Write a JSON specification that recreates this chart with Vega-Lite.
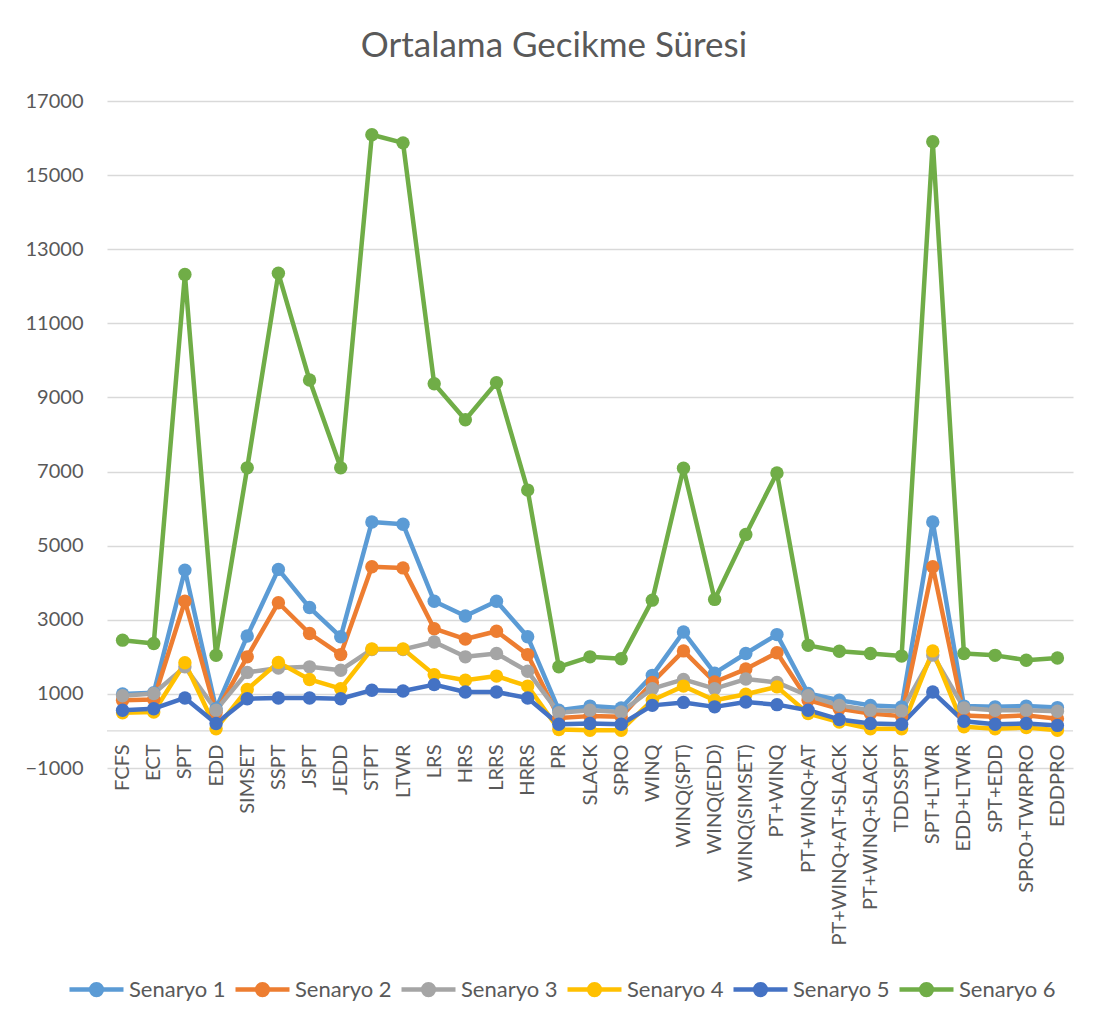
{
 "$schema": "https://vega.github.io/schema/vega-lite/v6.json",
 "width": 966, "height": 667,
 "autosize": {"type": "none"},
 "padding": {"left": 107, "top": 101, "right": 30, "bottom": 261},
 "background": "white",
 "title": {"text": "Ortalama Gecikme Süresi", "fontSize": 35, "font": "Lato", "fontWeight": "normal", "color": "#595959", "anchor": "middle", "dx": -36, "offset": 27},
 "config": {"view": {"stroke": null}, "font": "Lato"},
 "datasets": {
  "d": [
{"k":"FCFS","s":"Senaryo 1","v":1000},{"k":"ECT","s":"Senaryo 1","v":1030},{"k":"SPT","s":"Senaryo 1","v":4340},{"k":"EDD","s":"Senaryo 1","v":600},{"k":"SIMSET","s":"Senaryo 1","v":2560},{"k":"SSPT","s":"Senaryo 1","v":4360},{"k":"JSPT","s":"Senaryo 1","v":3330},{"k":"JEDD","s":"Senaryo 1","v":2540},{"k":"STPT","s":"Senaryo 1","v":5640},{"k":"LTWR","s":"Senaryo 1","v":5580},{"k":"LRS","s":"Senaryo 1","v":3500},{"k":"HRS","s":"Senaryo 1","v":3100},{"k":"LRRS","s":"Senaryo 1","v":3500},{"k":"HRRS","s":"Senaryo 1","v":2540},{"k":"PR","s":"Senaryo 1","v":560},{"k":"SLACK","s":"Senaryo 1","v":670},{"k":"SPRO","s":"Senaryo 1","v":620},{"k":"WINQ","s":"Senaryo 1","v":1500},{"k":"WINQ(SPT)","s":"Senaryo 1","v":2670},{"k":"WINQ(EDD)","s":"Senaryo 1","v":1560},{"k":"WINQ(SIMSET)","s":"Senaryo 1","v":2090},{"k":"PT+WINQ","s":"Senaryo 1","v":2600},{"k":"PT+WINQ+AT","s":"Senaryo 1","v":1010},{"k":"PT+WINQ+AT+SLACK","s":"Senaryo 1","v":830},{"k":"PT+WINQ+SLACK","s":"Senaryo 1","v":690},{"k":"TDDSSPT","s":"Senaryo 1","v":650},{"k":"SPT+LTWR","s":"Senaryo 1","v":5640},{"k":"EDD+LTWR","s":"Senaryo 1","v":670},{"k":"SPT+EDD","s":"Senaryo 1","v":650},{"k":"SPRO+TWRPRO","s":"Senaryo 1","v":670},{"k":"EDDPRO","s":"Senaryo 1","v":630},
{"k":"FCFS","s":"Senaryo 2","v":830},{"k":"ECT","s":"Senaryo 2","v":850},{"k":"SPT","s":"Senaryo 2","v":3500},{"k":"EDD","s":"Senaryo 2","v":500},{"k":"SIMSET","s":"Senaryo 2","v":2000},{"k":"SSPT","s":"Senaryo 2","v":3460},{"k":"JSPT","s":"Senaryo 2","v":2630},{"k":"JEDD","s":"Senaryo 2","v":2060},{"k":"STPT","s":"Senaryo 2","v":4430},{"k":"LTWR","s":"Senaryo 2","v":4400},{"k":"LRS","s":"Senaryo 2","v":2760},{"k":"HRS","s":"Senaryo 2","v":2480},{"k":"LRRS","s":"Senaryo 2","v":2690},{"k":"HRRS","s":"Senaryo 2","v":2060},{"k":"PR","s":"Senaryo 2","v":350},{"k":"SLACK","s":"Senaryo 2","v":400},{"k":"SPRO","s":"Senaryo 2","v":380},{"k":"WINQ","s":"Senaryo 2","v":1310},{"k":"WINQ(SPT)","s":"Senaryo 2","v":2160},{"k":"WINQ(EDD)","s":"Senaryo 2","v":1320},{"k":"WINQ(SIMSET)","s":"Senaryo 2","v":1670},{"k":"PT+WINQ","s":"Senaryo 2","v":2110},{"k":"PT+WINQ+AT","s":"Senaryo 2","v":830},{"k":"PT+WINQ+AT+SLACK","s":"Senaryo 2","v":600},{"k":"PT+WINQ+SLACK","s":"Senaryo 2","v":470},{"k":"TDDSSPT","s":"Senaryo 2","v":400},{"k":"SPT+LTWR","s":"Senaryo 2","v":4430},{"k":"EDD+LTWR","s":"Senaryo 2","v":420},{"k":"SPT+EDD","s":"Senaryo 2","v":380},{"k":"SPRO+TWRPRO","s":"Senaryo 2","v":420},{"k":"EDDPRO","s":"Senaryo 2","v":330},
{"k":"FCFS","s":"Senaryo 3","v":950},{"k":"ECT","s":"Senaryo 3","v":1010},{"k":"SPT","s":"Senaryo 3","v":1730},{"k":"EDD","s":"Senaryo 3","v":560},{"k":"SIMSET","s":"Senaryo 3","v":1580},{"k":"SSPT","s":"Senaryo 3","v":1700},{"k":"JSPT","s":"Senaryo 3","v":1730},{"k":"JEDD","s":"Senaryo 3","v":1640},{"k":"STPT","s":"Senaryo 3","v":2200},{"k":"LTWR","s":"Senaryo 3","v":2200},{"k":"LRS","s":"Senaryo 3","v":2400},{"k":"HRS","s":"Senaryo 3","v":2000},{"k":"LRRS","s":"Senaryo 3","v":2090},{"k":"HRRS","s":"Senaryo 3","v":1610},{"k":"PR","s":"Senaryo 3","v":490},{"k":"SLACK","s":"Senaryo 3","v":560},{"k":"SPRO","s":"Senaryo 3","v":510},{"k":"WINQ","s":"Senaryo 3","v":1140},{"k":"WINQ(SPT)","s":"Senaryo 3","v":1390},{"k":"WINQ(EDD)","s":"Senaryo 3","v":1140},{"k":"WINQ(SIMSET)","s":"Senaryo 3","v":1400},{"k":"PT+WINQ","s":"Senaryo 3","v":1310},{"k":"PT+WINQ+AT","s":"Senaryo 3","v":950},{"k":"PT+WINQ+AT+SLACK","s":"Senaryo 3","v":690},{"k":"PT+WINQ+SLACK","s":"Senaryo 3","v":560},{"k":"TDDSSPT","s":"Senaryo 3","v":540},{"k":"SPT+LTWR","s":"Senaryo 3","v":2050},{"k":"EDD+LTWR","s":"Senaryo 3","v":620},{"k":"SPT+EDD","s":"Senaryo 3","v":560},{"k":"SPRO+TWRPRO","s":"Senaryo 3","v":560},{"k":"EDDPRO","s":"Senaryo 3","v":530},
{"k":"FCFS","s":"Senaryo 4","v":490},{"k":"ECT","s":"Senaryo 4","v":510},{"k":"SPT","s":"Senaryo 4","v":1840},{"k":"EDD","s":"Senaryo 4","v":60},{"k":"SIMSET","s":"Senaryo 4","v":1120},{"k":"SSPT","s":"Senaryo 4","v":1850},{"k":"JSPT","s":"Senaryo 4","v":1390},{"k":"JEDD","s":"Senaryo 4","v":1140},{"k":"STPT","s":"Senaryo 4","v":2210},{"k":"LTWR","s":"Senaryo 4","v":2210},{"k":"LRS","s":"Senaryo 4","v":1520},{"k":"HRS","s":"Senaryo 4","v":1370},{"k":"LRRS","s":"Senaryo 4","v":1480},{"k":"HRRS","s":"Senaryo 4","v":1210},{"k":"PR","s":"Senaryo 4","v":40},{"k":"SLACK","s":"Senaryo 4","v":20},{"k":"SPRO","s":"Senaryo 4","v":20},{"k":"WINQ","s":"Senaryo 4","v":830},{"k":"WINQ(SPT)","s":"Senaryo 4","v":1210},{"k":"WINQ(EDD)","s":"Senaryo 4","v":830},{"k":"WINQ(SIMSET)","s":"Senaryo 4","v":990},{"k":"PT+WINQ","s":"Senaryo 4","v":1190},{"k":"PT+WINQ+AT","s":"Senaryo 4","v":470},{"k":"PT+WINQ+AT+SLACK","s":"Senaryo 4","v":240},{"k":"PT+WINQ+SLACK","s":"Senaryo 4","v":60},{"k":"TDDSSPT","s":"Senaryo 4","v":60},{"k":"SPT+LTWR","s":"Senaryo 4","v":2160},{"k":"EDD+LTWR","s":"Senaryo 4","v":110},{"k":"SPT+EDD","s":"Senaryo 4","v":60},{"k":"SPRO+TWRPRO","s":"Senaryo 4","v":90},{"k":"EDDPRO","s":"Senaryo 4","v":20},
{"k":"FCFS","s":"Senaryo 5","v":560},{"k":"ECT","s":"Senaryo 5","v":600},{"k":"SPT","s":"Senaryo 5","v":890},{"k":"EDD","s":"Senaryo 5","v":200},{"k":"SIMSET","s":"Senaryo 5","v":870},{"k":"SSPT","s":"Senaryo 5","v":890},{"k":"JSPT","s":"Senaryo 5","v":890},{"k":"JEDD","s":"Senaryo 5","v":870},{"k":"STPT","s":"Senaryo 5","v":1100},{"k":"LTWR","s":"Senaryo 5","v":1080},{"k":"LRS","s":"Senaryo 5","v":1250},{"k":"HRS","s":"Senaryo 5","v":1050},{"k":"LRRS","s":"Senaryo 5","v":1050},{"k":"HRRS","s":"Senaryo 5","v":890},{"k":"PR","s":"Senaryo 5","v":180},{"k":"SLACK","s":"Senaryo 5","v":200},{"k":"SPRO","s":"Senaryo 5","v":180},{"k":"WINQ","s":"Senaryo 5","v":690},{"k":"WINQ(SPT)","s":"Senaryo 5","v":770},{"k":"WINQ(EDD)","s":"Senaryo 5","v":650},{"k":"WINQ(SIMSET)","s":"Senaryo 5","v":780},{"k":"PT+WINQ","s":"Senaryo 5","v":710},{"k":"PT+WINQ+AT","s":"Senaryo 5","v":560},{"k":"PT+WINQ+AT+SLACK","s":"Senaryo 5","v":310},{"k":"PT+WINQ+SLACK","s":"Senaryo 5","v":200},{"k":"TDDSSPT","s":"Senaryo 5","v":180},{"k":"SPT+LTWR","s":"Senaryo 5","v":1050},{"k":"EDD+LTWR","s":"Senaryo 5","v":260},{"k":"SPT+EDD","s":"Senaryo 5","v":180},{"k":"SPRO+TWRPRO","s":"Senaryo 5","v":200},{"k":"EDDPRO","s":"Senaryo 5","v":150},
{"k":"FCFS","s":"Senaryo 6","v":2450},{"k":"ECT","s":"Senaryo 6","v":2360},{"k":"SPT","s":"Senaryo 6","v":12320},{"k":"EDD","s":"Senaryo 6","v":2040},{"k":"SIMSET","s":"Senaryo 6","v":7100},{"k":"SSPT","s":"Senaryo 6","v":12350},{"k":"JSPT","s":"Senaryo 6","v":9470},{"k":"JEDD","s":"Senaryo 6","v":7100},{"k":"STPT","s":"Senaryo 6","v":16090},{"k":"LTWR","s":"Senaryo 6","v":15870},{"k":"LRS","s":"Senaryo 6","v":9370},{"k":"HRS","s":"Senaryo 6","v":8400},{"k":"LRRS","s":"Senaryo 6","v":9400},{"k":"HRRS","s":"Senaryo 6","v":6500},{"k":"PR","s":"Senaryo 6","v":1730},{"k":"SLACK","s":"Senaryo 6","v":2000},{"k":"SPRO","s":"Senaryo 6","v":1950},{"k":"WINQ","s":"Senaryo 6","v":3530},{"k":"WINQ(SPT)","s":"Senaryo 6","v":7090},{"k":"WINQ(EDD)","s":"Senaryo 6","v":3550},{"k":"WINQ(SIMSET)","s":"Senaryo 6","v":5300},{"k":"PT+WINQ","s":"Senaryo 6","v":6960},{"k":"PT+WINQ+AT","s":"Senaryo 6","v":2310},{"k":"PT+WINQ+AT+SLACK","s":"Senaryo 6","v":2150},{"k":"PT+WINQ+SLACK","s":"Senaryo 6","v":2090},{"k":"TDDSSPT","s":"Senaryo 6","v":2020},{"k":"SPT+LTWR","s":"Senaryo 6","v":15900},{"k":"EDD+LTWR","s":"Senaryo 6","v":2090},{"k":"SPT+EDD","s":"Senaryo 6","v":2040},{"k":"SPRO+TWRPRO","s":"Senaryo 6","v":1910},{"k":"EDDPRO","s":"Senaryo 6","v":1970}
  ]
 },
 "layer": [
  {
   "data": {"values": [{"zero": 0}]},
   "mark": {"type": "rule", "color": "#D9D9D9", "strokeWidth": 1.3},
   "encoding": {"y": {"field": "zero", "type": "quantitative"}}
  },
  {
   "data": {"name": "d"},
   "mark": {"type": "line", "strokeWidth": 4.5, "strokeJoin": "round", "strokeCap": "round", "point": {"filled": true, "size": 180, "opacity": 1}},
   "encoding": {
    "x": {"field": "k", "type": "nominal", "sort": null, "scale": {"type": "point", "padding": 0.5},
          "axis": {"title": null, "labelAngle": -90, "labelFontSize": 20, "labelColor": "#595959", "ticks": false, "domain": false, "labelPadding": -24, "grid": false, "labelOverlap": false, "labelLimit": 400}},
    "y": {"field": "v", "type": "quantitative", "scale": {"domain": [-1000, 17000], "nice": false, "zero": false},
          "axis": {"title": null, "values": [-1000, 1000, 3000, 5000, 7000, 9000, 11000, 13000, 15000, 17000], "format": "d", "labelFontSize": 20, "labelColor": "#595959", "gridColor": "#D9D9D9", "gridWidth": 1.3, "domain": false, "ticks": false, "labelPadding": 24}},
    "color": {"field": "s", "type": "nominal",
              "scale": {"domain": ["Senaryo 1", "Senaryo 2", "Senaryo 3", "Senaryo 4", "Senaryo 5", "Senaryo 6"], "range": ["#5B9BD5", "#ED7D31", "#A5A5A5", "#FFC000", "#4472C4", "#70AD47"]},
              "legend": {"orient": "none", "direction": "horizontal", "legendX": -40, "legendY": 859, "title": null, "columns": 6,
                         "symbolType": "M-1,0L1,0M0.2,0A0.2,0.2,0,1,1,-0.2,0A0.2,0.2,0,1,1,0.2,0Z", "symbolSize": 2916, "symbolStrokeWidth": 4.5,
                         "labelFontSize": 22, "labelColor": "#595959", "labelOffset": 3, "columnPadding": 0}}
   }
  }
 ]
}
